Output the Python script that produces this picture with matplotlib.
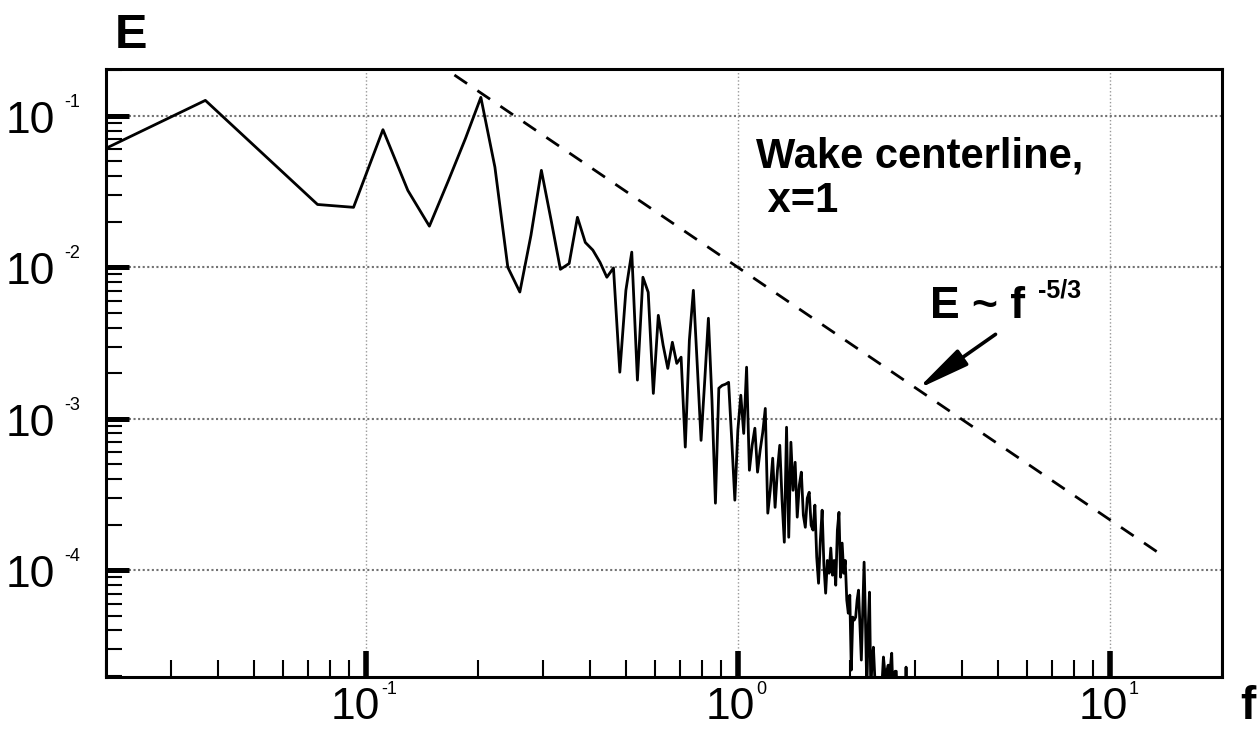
import numpy as np
import matplotlib
matplotlib.use("Agg")
import matplotlib.pyplot as plt
from matplotlib.ticker import LogLocator, NullFormatter
from matplotlib.transforms import offset_copy

plt.rcParams["font.family"] = "Liberation Sans"

# ---- data (uniform FFT frequency grid) --------------------------------------
FREQ = [
    0.0185, 0.0370, 0.0556, 0.0741, 0.0926, 0.1111, 0.1296, 0.1481, 0.1667,
    0.1852, 0.2037, 0.2222, 0.2407, 0.2593, 0.2778, 0.2963, 0.3148, 0.3333,
    0.3519, 0.3704, 0.3889, 0.4074, 0.4259, 0.4444, 0.4630, 0.4815, 0.5000,
    0.5185, 0.5370, 0.5556, 0.5741, 0.5926, 0.6111, 0.6296, 0.6481, 0.6667,
    0.6852, 0.7037, 0.7222, 0.7407, 0.7593, 0.7778, 0.7963, 0.8148, 0.8333,
    0.8519, 0.8704, 0.8889, 0.9074, 0.9259, 0.9444, 0.9630, 0.9815, 1.0000,
    1.0185, 1.0370, 1.0556, 1.0741, 1.0926, 1.1111, 1.1296, 1.1481, 1.1667,
    1.1852, 1.2037, 1.2222, 1.2407, 1.2593, 1.2778, 1.2963, 1.3148, 1.3333,
    1.3519, 1.3704, 1.3889, 1.4074, 1.4259, 1.4444, 1.4630, 1.4815, 1.5000,
    1.5185, 1.5370, 1.5556, 1.5741, 1.5926, 1.6111, 1.6296, 1.6481, 1.6667,
    1.6852, 1.7037, 1.7222, 1.7407, 1.7593, 1.7778, 1.7963, 1.8148, 1.8333,
    1.8519, 1.8704, 1.8889, 1.9074, 1.9259, 1.9444, 1.9630, 1.9815, 2.0000,
    2.0185, 2.0370, 2.0556, 2.0741, 2.0926, 2.1111, 2.1296, 2.1481, 2.1667,
    2.1852, 2.2037, 2.2222, 2.2407, 2.2593, 2.2778, 2.2963, 2.3148, 2.3333,
    2.3519, 2.3704, 2.3889, 2.4074, 2.4259, 2.4444, 2.4630, 2.4815, 2.5000,
    2.5185, 2.5370, 2.5556, 2.5741, 2.5926, 2.6111, 2.6296, 2.6481, 2.6667,
    2.6852, 2.7037, 2.7222, 2.7407, 2.7593, 2.7778, 2.7963, 2.8148, 2.8333,
    2.8519, 2.8704, 2.8889, 2.9074, 2.9259, 2.9444, 2.9630,
]
ENERGY = [
    0.0557, 0.1266, 0.0501, 0.0260, 0.0249, 0.0811, 0.0322, 0.0187, 0.0375,
    0.0710, 0.1325, 0.0459, 0.0100, 0.00687, 0.0163, 0.0437, 0.0204, 0.0097,
    0.0106, 0.0214, 0.0146, 0.0130, 0.0108, 0.0086, 0.0099, 0.00203, 0.00705,
    0.0126, 0.00180, 0.0086, 0.00684, 0.00147, 0.00482, 0.00306, 0.00215, 0.00320,
    0.00232, 0.00255, 0.00065, 0.00330, 0.00705, 0.00226, 0.00072, 0.00180, 0.00461,
    0.00133, 0.000277, 0.00159, 0.00166, 0.00169, 0.00174, 0.00072, 0.00029, 0.00084,
    0.00143, 0.00080, 0.00219, 0.000457, 0.000668, 0.000866, 0.000444, 0.00062, 0.000814,
    0.00117, 0.000238, 0.000337, 0.000549, 0.00026, 0.000457, 0.000668, 0.00029, 0.000153,
    0.000879, 0.000165, 0.00070, 0.000337, 0.000516, 0.000224, 0.000364, 0.000444, 0.000231,
    0.000192, 0.000299, 0.000327, 0.000198, 0.000184, 0.000269, 0.000122, 8.2e-5, 0.000158,
    0.000249, 0.000108, 7.05e-5, 0.000116, 9.55e-5, 0.000140, 9.27e-5, 0.000116, 7.96e-5,
    0.000184, 0.000241, 8.99e-5, 0.000151, 9.55e-5, 0.000116, 6.34e-5, 5.2e-5, 6.84e-5,
    2.19e-5, 4.9e-5, 4.68e-5, 4.9e-5, 6.34e-5, 7.38e-5, 4.34e-5, 2.55e-5, 5.44e-5,
    0.000113, 4.68e-5, 1.61e-5, 4.02e-5, 7.16e-5, 1.61e-5, 2.55e-5, 3.1e-5, 2.03e-5,
    1.39e-5, 1.39e-5, 1.39e-5, 1.39e-5, 1.39e-5, 1.88e-5, 2.67e-5, 2.19e-5, 1.61e-5,
    2.19e-5, 2.36e-5, 1.88e-5, 2.36e-5, 2.83e-5, 1.61e-5, 2.09e-5, 2.15e-5, 2.15e-5,
    1.3e-5, 1.3e-5, 1.3e-5, 1.3e-5, 1.3e-5, 1.3e-5, 1.3e-5, 1.3e-5, 2.29e-5,
    1.3e-5, 1.3e-5, 1.3e-5, 1.3e-5, 1.3e-5, 1.3e-5, 1.3e-5,
]
# E ~ f^-5/3 reference line (end points)
REF_F = [0.15, 13.9]
REF_E = [0.236, 1.245e-4]
# arrow from the label to the reference line
ARROW_TIP = (3.04, 1.57e-3)
ARROW_TAIL = (4.93, 3.61e-3)

XTICKS = [0.1, 1.0, 10.0]
XEXP = ["-1", "0", "1"]
YTICKS = [1e-1, 1e-2, 1e-3, 1e-4]
YEXP = ["-1", "-2", "-3", "-4"]

W, H = 1258, 729
fig = plt.figure(figsize=(W / 100, H / 100), dpi=100)
ax = fig.add_axes([106 / W, 1 - 676.7 / H, (1221.7 - 106) / W, (676.7 - 69) / H])

ax.plot(FREQ, ENERGY, color="k", lw=2.0)
ax.plot(REF_F, REF_E, color="k", lw=2.0, ls=(0, (5.5, 4.5)))
ax.annotate("", xy=ARROW_TIP, xytext=ARROW_TAIL,
            arrowprops=dict(arrowstyle="-|>,head_length=1.45,head_width=0.26",
                            lw=2.6, color="k", shrinkA=0, shrinkB=0,
                            mutation_scale=22))

ax.set_xscale("log"); ax.set_yscale("log")
ax.set_xlim(0.02, 20.0)
ax.set_ylim(1.98e-5, 0.204)

for axis in (ax.xaxis, ax.yaxis):
    axis.set_major_locator(LogLocator(base=10, numticks=12))
    axis.set_minor_locator(LogLocator(base=10, subs=np.arange(2, 10), numticks=30))
    axis.set_major_formatter(NullFormatter())
    axis.set_minor_formatter(NullFormatter())
ax.tick_params(which="both", direction="in", top=False, right=False,
               labelbottom=False, labelleft=False)
ax.tick_params(axis="x", which="major", length=18.5, width=4.0)
ax.tick_params(axis="x", which="minor", length=12.2, width=1.5)
ax.tick_params(axis="y", which="major", length=16.6, width=3.6)
ax.tick_params(axis="y", which="minor", length=11.5, width=1.5)
for sp in ax.spines.values():
    sp.set_linewidth(2.2)

ax.yaxis.grid(True, which="major", ls=(0, (1, 1.2)), lw=1.5, color="0.45")
ax.xaxis.grid(True, which="major", ls=(0, (1, 1.6)), lw=1.0, color="0.6")
ax.set_axisbelow(True)

# tick labels: big "10" with a small superscript exponent
MAIN_FS, SUP_FS = 32, 13
SUP_W = {"-1": 17, "0": 11, "1": 10}
xtr = ax.get_xaxis_transform()
for t, e in zip(XTICKS, XEXP):
    total = 46 + 4 + SUP_W[e]
    r10 = -total / 2 + 46
    ax.text(t, 0, "10", fontsize=MAIN_FS, ha="right", va="bottom",
            transform=offset_copy(xtr, fig=fig, x=r10 + 2, y=-51.5, units="dots"))
    ax.text(t, 0, e, fontsize=SUP_FS, ha="left", va="baseline",
            transform=offset_copy(xtr, fig=fig, x=r10 + 3, y=-17, units="dots"))
ytr = ax.get_yaxis_transform()
for t, e in zip(YTICKS, YEXP):
    ax.text(0, t, "10", fontsize=MAIN_FS, ha="right", va="baseline",
            transform=offset_copy(ytr, fig=fig, x=-51, y=-17, units="dots"))
    ax.text(0, t, e, fontsize=SUP_FS, ha="left", va="baseline",
            transform=offset_copy(ytr, fig=fig, x=-42, y=9, units="dots"))

# axis titles and annotations (figure pixel positions)
def fx(x): return x / W
def fy(y): return 1 - y / H

fig.text(fx(115), fy(48), "E", fontsize=35, fontweight="bold", va="baseline")
fig.text(fx(1240), fy(719), "f", fontsize=33, fontweight="bold", va="baseline")
fig.text(fx(756), fy(168), "Wake centerline,", fontsize=30, fontweight="bold", va="baseline")
fig.text(fx(756), fy(212), " x=1", fontsize=30, fontweight="bold", va="baseline")
fig.text(fx(930), fy(318), "E ~ f", fontsize=32, fontweight="bold", va="baseline")
fig.text(fx(1038), fy(297), "-5/3", fontsize=18, fontweight="bold", va="baseline")

fig.savefig("out.png", dpi=100, facecolor="white")
